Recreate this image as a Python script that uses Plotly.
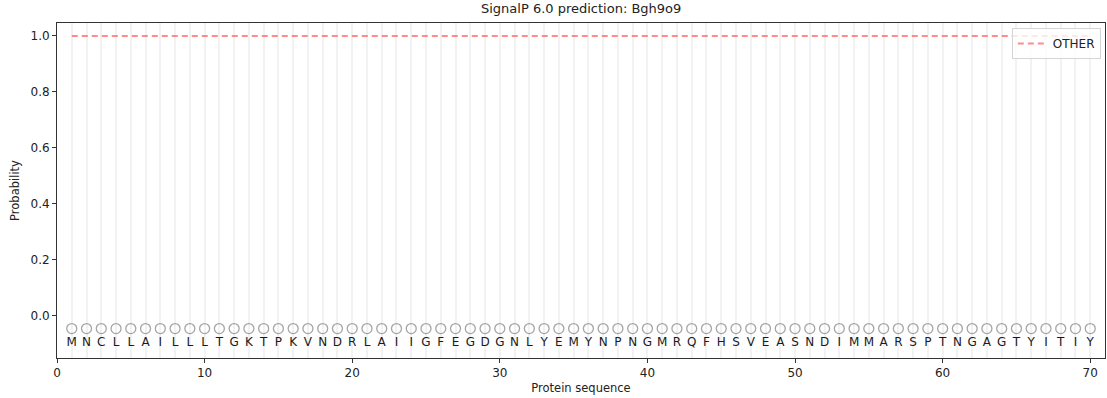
import plotly.graph_objects as go

sequence = list("MNCLLAILLLTGKTPKVNDRLAIIGFEGDGNLYEMYNPNGMRQFHSVEASNDIMMARSPTNGAGTYITIY")
positions = list(range(1, len(sequence) + 1))
other_prob = [1.0] * len(sequence)
marker_y = [-0.045] * len(sequence)
letter_y = [-0.098] * len(sequence)
x_ticks = [0, 10, 20, 30, 40, 50, 60, 70]
y_ticks = [0.0, 0.2, 0.4, 0.6, 0.8, 1.0]

font = "DejaVu Sans, Liberation Sans, sans-serif"
grid = "rgba(0,0,0,0.05)"

fig = go.Figure()
fig.add_trace(go.Scatter(
    x=positions, y=other_prob, mode="lines", name="OTHER",
    line=dict(color="rgba(255,90,90,0.7)", width=2, dash="6px,4px"),
))
fig.add_trace(go.Scatter(
    x=positions, y=marker_y, mode="markers", showlegend=False,
    marker=dict(symbol="circle-open", size=10, color="rgba(128,128,128,0.7)", line=dict(width=1.3)),
))
fig.add_trace(go.Scatter(
    x=positions, y=letter_y, mode="text", text=sequence, showlegend=False,
    textfont=dict(family=font, size=12, color="#1a1a1a"),
))

fig.update_layout(
    width=1107, height=398,
    margin=dict(l=57, r=2, t=23, b=40),
    paper_bgcolor="white", plot_bgcolor="white",
    font=dict(family=font, size=12, color="#222"),
    title=dict(text="SignalP 6.0 prediction: Bgh9o9", x=0.525, xanchor="center", y=0.99, yanchor="top",
               font=dict(size=13, color="#222")),
    legend=dict(x=0.996, y=0.985, xanchor="right", yanchor="top",
                bgcolor="rgba(255,255,255,0.8)", bordercolor="#d5d5d5", borderwidth=1,
                font=dict(size=12)),
    xaxis=dict(
        range=[0, 71], tickvals=x_ticks, showgrid=False,
        minor=dict(dtick=1, tick0=0, showgrid=True, gridcolor=grid, gridwidth=1.5),
        showline=True, linecolor="#333", linewidth=1, mirror=True,
        ticks="outside", ticklen=4, tickcolor="#333", zeroline=False,
        title=dict(text="Protein sequence", standoff=4, font=dict(size=11.5)),
    ),
    yaxis=dict(
        range=[-0.15, 1.046], tickvals=y_ticks, ticktext=[f"{v:.1f}" for v in y_ticks],
        showgrid=False, zeroline=False,
        showline=True, linecolor="#333", linewidth=1, mirror=True,
        ticks="outside", ticklen=4, tickcolor="#333",
        title=dict(text="Probability", standoff=8, font=dict(size=11.5)),
    ),
)

fig.write_html("out.html")
